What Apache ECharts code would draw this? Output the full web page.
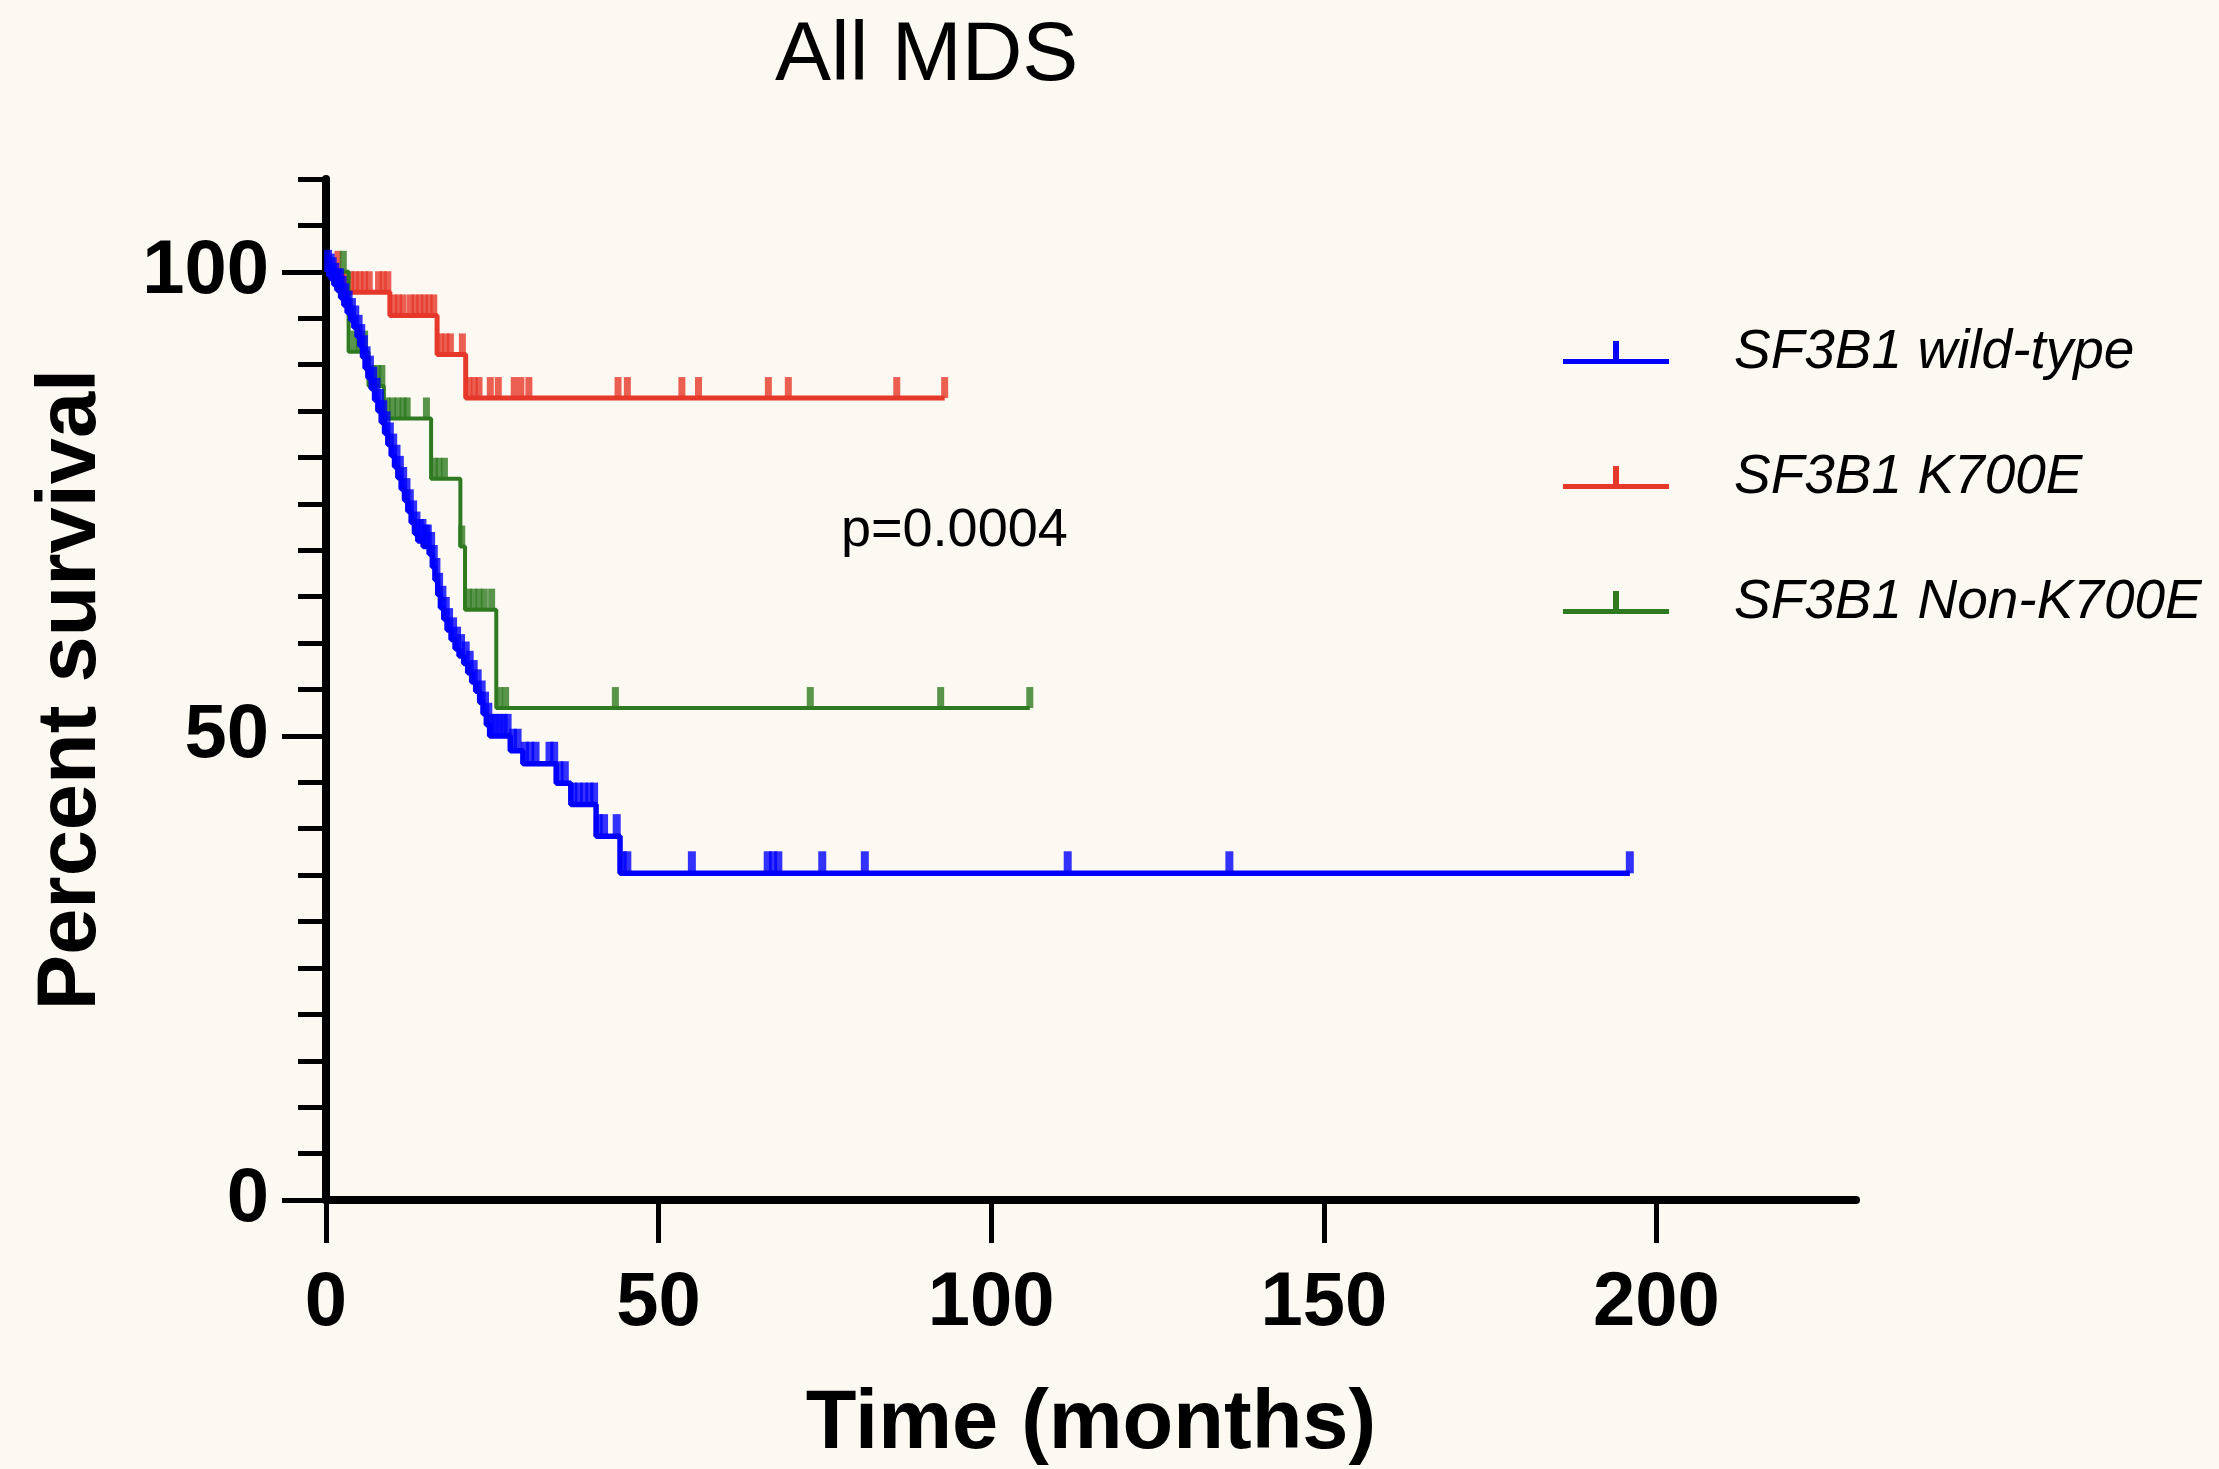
<!DOCTYPE html>
<html>
<head>
<meta charset="utf-8">
<title>All MDS</title>
<script src="https://cdn.jsdelivr.net/npm/echarts@6/dist/echarts.min.js"></script>
<style>
  html, body { margin: 0; padding: 0; background: #fcf9f2; }
  #chart { width: 2219px; height: 1469px; }
</style>
</head>
<body>
<div id="chart"></div>
<script>
// Kaplan-Meier steps: time (months) and percent survival after each drop
var wtTimes = [0, 0.4, 0.8, 1.2, 1.7, 2.2, 2.7, 3.2, 3.7, 4.2, 4.7, 5.1, 5.5, 5.9, 6.3, 6.8, 7.3, 7.8, 8.3, 8.8, 9.3, 9.8, 10.3, 10.8, 11.3, 11.8, 12.3, 12.8, 13.3, 13.8, 14.6, 15.5, 16.0, 16.4, 16.8, 17.2, 17.7, 18.2, 18.8, 19.4, 20.0, 20.7, 21.3, 21.9, 22.5, 23.1, 23.6, 24.1, 24.6, 27.7, 29.6, 34.6, 36.8, 40.6, 44.2, 196]
var wtSurv = [100, 99.6, 99.2, 98.6, 98.0, 97.2, 96.4, 95.6, 94.8, 94.0, 93.0, 92.0, 90.8, 89.6, 88.6, 87.4, 86.2, 85.0, 83.8, 82.6, 81.4, 80.2, 79.0, 77.8, 76.6, 75.4, 74.2, 73.0, 71.8, 71.0, 70.4, 69.6, 68.2, 66.8, 65.2, 63.8, 62.6, 61.4, 60.4, 59.4, 58.6, 57.8, 56.8, 55.8, 54.8, 53.6, 52.4, 51.2, 50.0, 48.4, 47.0, 44.9, 42.6, 39.2, 35.2, 35.2]
var wtCensor = [0.3, 0.7, 1.0, 1.4, 1.8, 2.1, 2.5, 2.9, 3.4, 3.9, 4.4, 4.9, 5.3, 5.7, 6.1, 6.6, 7.1, 7.6, 8.1, 8.6, 9.1, 9.6, 10.1, 10.6, 11.1, 11.6, 12.1, 12.6, 13.1, 13.6, 14.1, 14.5, 15.0, 15.3, 15.8, 16.2, 16.6, 17.0, 17.5, 18.0, 18.5, 19.1, 19.7, 20.3, 21.0, 21.6, 22.2, 22.8, 23.4, 23.9, 24.4, 24.9, 25.5, 26.1, 26.7, 27.3, 28.1, 28.8, 29.9, 30.7, 31.5, 33.6, 34.3, 35.1, 35.9, 37.2, 38.0, 38.8, 39.6, 40.3, 41.0, 41.8, 43.7, 44.6, 45.3, 55.0, 66.4, 67.2, 68.0, 74.6, 81.0, 111.5, 135.8, 196]

var kTimes = [0, 2.5, 9.6, 16.7, 21.0, 93]
var kSurv = [100, 97.8, 95.3, 91.1, 86.4, 86.4]
var kCensor = [1.8, 3.0, 3.7, 4.4, 5.1, 5.8, 6.5, 7.9, 8.6, 9.3, 10.2, 10.9, 11.6, 12.7, 13.4, 14.1, 14.8, 15.5, 16.2, 17.2, 18.0, 18.7, 20.5, 21.5, 22.3, 23.0, 24.7, 25.9, 28.3, 29.3, 30.5, 43.9, 45.3, 53.5, 56.0, 66.5, 69.5, 85.8, 93]

var nkTimes = [0, 3.4, 6.4, 8.7, 15.8, 20.2, 20.9, 25.6, 105.8]
var nkSurv = [100, 91.4, 87.7, 84.2, 77.7, 70.4, 63.6, 53.0, 53.0]
var nkCensor = [2.6, 4.2, 5.0, 5.8, 7.0, 7.8, 8.4, 9.2, 10.0, 10.8, 11.6, 12.2, 15.1, 16.3, 17.0, 17.8, 20.4, 21.4, 22.2, 23.0, 23.8, 24.9, 26.1, 27.0, 43.5, 72.8, 92.4, 105.8]

var groupNames = ['SF3B1 wild-type', 'SF3B1 K700E', 'SF3B1 Non-K700E']
var xTicks = [0, 50, 100, 150, 200]
var yTicks = [0, 50, 100]

var colors = ['#0000ff', '#e6382b', '#2f7a20']
var font = 'Liberation Sans, Arial, Helvetica, sans-serif'

function pairs (times, surv) {
  return times.map(function (t, i) { return [t, surv[i]] })
}

// a censored case sits on the curve at its time
function censorPoints (times, surv, censor) {
  return censor.map(function (c) {
    var s = surv[0]
    for (var i = 0; i < times.length; i++) {
      if (times[i] <= c) s = surv[i]
    }
    return [c, s]
  })
}

var groups = [
  { times: wtTimes, surv: wtSurv, censor: wtCensor, width: 5.5, tick: [8, 22], z: 5 },
  { times: kTimes, surv: kSurv, censor: kCensor, width: 5, tick: [7, 21], z: 3 },
  { times: nkTimes, surv: nkSurv, censor: nkCensor, width: 4, tick: [7, 21], z: 4 }
]

var series = []
groups.forEach(function (g, i) {
  series.push({
    name: groupNames[i],
    type: 'line',
    step: 'end',
    showSymbol: false,
    z: g.z,
    color: colors[i],
    lineStyle: { color: colors[i], width: g.width },
    data: pairs(g.times, g.surv)
  })
  series.push({
    name: groupNames[i],
    type: 'scatter',
    z: g.z,
    color: colors[i],
    symbol: 'rect',
    symbolSize: g.tick,
    symbolOffset: [0, '-50%'],
    itemStyle: { color: colors[i] },
    data: censorPoints(g.times, g.surv, g.censor)
  })
})

var legendIcon = 'path://M0,18 L106,18 L106,23 L0,23 Z M50,0 L56,0 L56,18 L50,18 Z'

var myChart = echarts.init(document.getElementById('chart'))
var option = {
  animation: false,
  backgroundColor: '#fcf9f2',
  title: [{
    text: 'All MDS',
    left: 770,
    top: 10,
    textStyle: { fontFamily: font, fontSize: 84, fontWeight: 'normal', color: '#000' }
  }, {
    text: 'p=0.0004',
    left: 836,
    top: 499,
    textStyle: { fontFamily: font, fontSize: 54, fontWeight: 'normal', color: '#000' }
  }],
  legend: {
    orient: 'vertical',
    left: 1558,
    top: 320,
    itemWidth: 106,
    itemHeight: 23,
    itemGap: 70,
    data: groupNames.map(function (n) { return { name: n, icon: legendIcon } }),
    textStyle: {
      fontFamily: font,
      fontSize: 55,
      fontStyle: 'italic',
      color: '#000',
      padding: [22, 0, 0, 60]
    }
  },
  grid: { left: 326, right: 363, top: 179, bottom: 269, containLabel: false, outerBoundsMode: 'none' },
  xAxis: {
    type: 'value',
    min: 0,
    max: 230,
    interval: 50,
    name: 'Time (months)',
    nameLocation: 'middle',
    nameGap: 184,
    nameTextStyle: { fontFamily: font, fontSize: 83, fontWeight: 'bold', color: '#000' },
    axisLine: { lineStyle: { color: '#000', width: 8 } },
    axisTick: { customValues: xTicks, length: 43, lineStyle: { color: '#000', width: 5 } },
    axisLabel: { customValues: xTicks, margin: 66, fontFamily: font, fontSize: 76, fontWeight: 'bold', color: '#000' },
    splitLine: { show: false }
  },
  yAxis: [{
    type: 'value',
    min: 0,
    max: 110,
    interval: 50,
    name: 'Percent survival',
    nameLocation: 'middle',
    nameGap: 212,
    nameTextStyle: { fontFamily: font, fontSize: 83, fontWeight: 'bold', color: '#000' },
    axisLine: { lineStyle: { color: '#000', width: 8 } },
    axisTick: { customValues: yTicks, length: 44, lineStyle: { color: '#000', width: 5 } },
    axisLabel: { customValues: yTicks, margin: 57, fontFamily: font, fontSize: 76, fontWeight: 'bold', color: '#000' },
    splitLine: { show: false }
  }, {
    type: 'value',
    position: 'left',
    min: 0,
    max: 110,
    interval: 5,
    axisLine: { show: false },
    axisTick: { length: 28, lineStyle: { color: '#000', width: 5 } },
    axisLabel: { show: false },
    splitLine: { show: false }
  }],
  series: series
}
myChart.setOption(option)
</script>
</body>
</html>
